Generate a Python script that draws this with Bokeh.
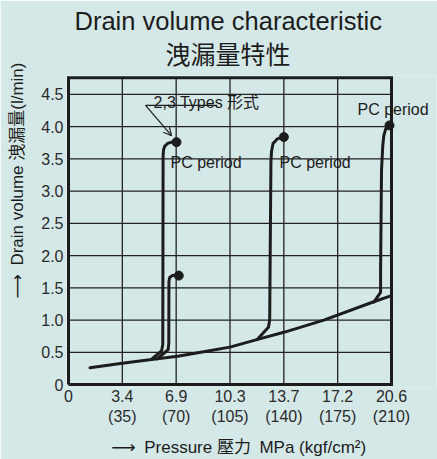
from bokeh.plotting import figure
from bokeh.models import Range1d, FixedTicker, Arrow, OpenHead, Title
from bokeh.core.properties import value
from bokeh.embed import file_html
from bokeh.resources import INLINE

# ---- texts ----
title_en = "Drain volume characteristic"
title_zh = "洩漏量特性"
x_label = "⟶\u2002Pressure 壓力\u2002MPa (kgf/cm²)"
y_label = "⟶\u2002Drain volume 洩漏量(l/min)"
types_label = "2,3 Types 形式"
pc_label = "PC period"

# ---- ticks (x in kgf/cm2) ----
x_ticks = [0, 35, 70, 105, 140, 175, 210]
x_tick_labels = ["0", "3.4\n(35)", "6.9\n(70)", "10.3\n(105)", "13.7\n(140)", "17.2\n(175)", "20.6\n(210)"]
y_ticks = [0, 0.5, 1.0, 1.5, 2.0, 2.5, 3.0, 3.5, 4.0, 4.5]
y_tick_labels = ["0", "0.5", "1.0", "1.5", "2.0", "2.5", "3.0", "3.5", "4.0", "4.5"]
x_max = 210
y_max = 4.76

# ---- data ----
base_x = [14, 35, 54, 71, 86, 105, 123, 140, 166, 198, 210]
base_y = [0.26, 0.33, 0.39, 0.44, 0.50, 0.58, 0.70, 0.81, 1.00, 1.28, 1.38]

tall_x = [54.4, 60.5, 61.3, 61.5, 61.8, 62.6, 64.5, 67.0, 70.2]
tall_y = [0.40, 0.52, 0.62, 3.55, 3.64, 3.70, 3.74, 3.76, 3.76]

short_x = [57.7, 64.8, 65.2, 65.3, 65.8, 67.4, 71.7]
short_y = [0.40, 0.54, 0.64, 1.60, 1.66, 1.69, 1.69]

mid_x = [122.7, 130.0, 130.8, 131.6, 132.0, 133.0, 135.7, 140.0]
mid_y = [0.70, 0.89, 1.00, 3.45, 3.62, 3.74, 3.81, 3.84]

right_x = [198.5, 202.9, 202.9, 203.5, 204.3, 205.0, 206.3, 208.7]
right_y = [1.28, 1.43, 1.78, 3.32, 3.70, 3.86, 3.97, 4.02]

dots_x = [70.2, 71.7, 140.0, 208.7]
dots_y = [3.76, 1.69, 3.84, 4.02]

pc_x = [66.3, 137.2, 187.9]
pc_y = [3.45, 3.45, 4.26]

FONT = "Liberation Sans, Arial, Noto Sans CJK TC, DejaVu Sans"
BG = "#d5e8e8"
INK = "#1c1c1c"

p = figure(width=437, height=459, output_backend="svg", toolbar_location=None,
           x_range=Range1d(-1.30, 239.25), y_range=Range1d(-0.046, 4.794),
           min_border_left=66, min_border_right=1, min_border_top=75, min_border_bottom=71,
           background_fill_color=BG, border_fill_color=BG)

p.title.visible = False
p.add_layout(Title(text=title_zh, align="left", offset=99, text_font=FONT, text_font_size="25px",
                   text_color=INK, text_font_style="normal", standoff=14), "above")
p.add_layout(Title(text=title_en, align="left", offset=8, text_font=FONT, text_font_size="25.5px",
                   text_color=INK, text_font_style="normal", standoff=-6), "above")

p.outline_line_color = None

p.xaxis.ticker = FixedTicker(ticks=x_ticks)
p.yaxis.ticker = FixedTicker(ticks=y_ticks)
p.xaxis.major_label_overrides = {t: l for t, l in zip(x_ticks, x_tick_labels)}
p.yaxis.major_label_overrides = {t: l for t, l in zip(y_ticks, y_tick_labels)}
for ax in (p.xaxis, p.yaxis):
    ax.axis_line_color = None
    ax.major_tick_line_color = None
    ax.minor_tick_line_color = None
    ax.major_tick_out = 0
    ax.major_tick_in = 0
    ax.minor_tick_out = 0
    ax.major_label_text_font = FONT
    ax.major_label_text_font_size = "16px"
    ax.major_label_text_color = "#2a2a2a"
    ax.axis_label_text_font = FONT
    ax.axis_label_text_font_size = "17px"
    ax.axis_label_text_font_style = "normal"
    ax.axis_label_text_color = INK
p.xaxis.major_label_standoff = 0
p.yaxis.major_label_standoff = 3
p.yaxis.axis_label = "\u2003" * 6 + y_label
p.xaxis.axis_label = x_label + "\u2003\u2002"
p.yaxis.axis_label_standoff = 11
p.xaxis.axis_label_standoff = 10

p.xgrid.visible = False
p.ygrid.visible = False

# grid lines (inside the box only)
gx = x_ticks[1:-1]
p.segment(x0=gx, y0=[0] * len(gx), x1=gx, y1=[y_max] * len(gx),
          line_color="#222222", line_width=1.3)
gy = y_ticks[1:]
p.segment(x0=[0] * len(gy), y0=gy, x1=[x_max] * len(gy), y1=gy,
          line_color="#222222", line_width=1.3)

# box border
p.line([0, 0, x_max, x_max, 0], [0, y_max, y_max, 0, 0], line_color=INK, line_width=3,
       line_join="miter")

for xs, ys in ((base_x, base_y), (tall_x, tall_y), (short_x, short_y),
               (mid_x, mid_y), (right_x, right_y)):
    p.line(xs, ys, line_color=INK, line_width=3, line_join="round", line_cap="round")

p.scatter(dots_x, dots_y, size=9, color=INK)

p.text(pc_x, pc_y, text=[pc_label] * 3, text_font=value(FONT), text_font_size="16px",
       text_color=INK, text_baseline="middle", text_align="left")

p.text([55.3], [4.37], text=[types_label], text_font=value(FONT), text_font_size="16px",
       text_color=INK, text_baseline="alphabetic", text_align="left")
p.line([50.1, 96.7], [4.33, 4.33], line_color=INK, line_width=1.2)
p.add_layout(Arrow(end=OpenHead(size=8, line_width=1.2, line_color=INK),
                   x_start=50.1, y_start=4.33, x_end=67.0, y_end=3.86,
                   line_width=1.2, line_color=INK))

open("out.html", "w").write(file_html(p, INLINE))
